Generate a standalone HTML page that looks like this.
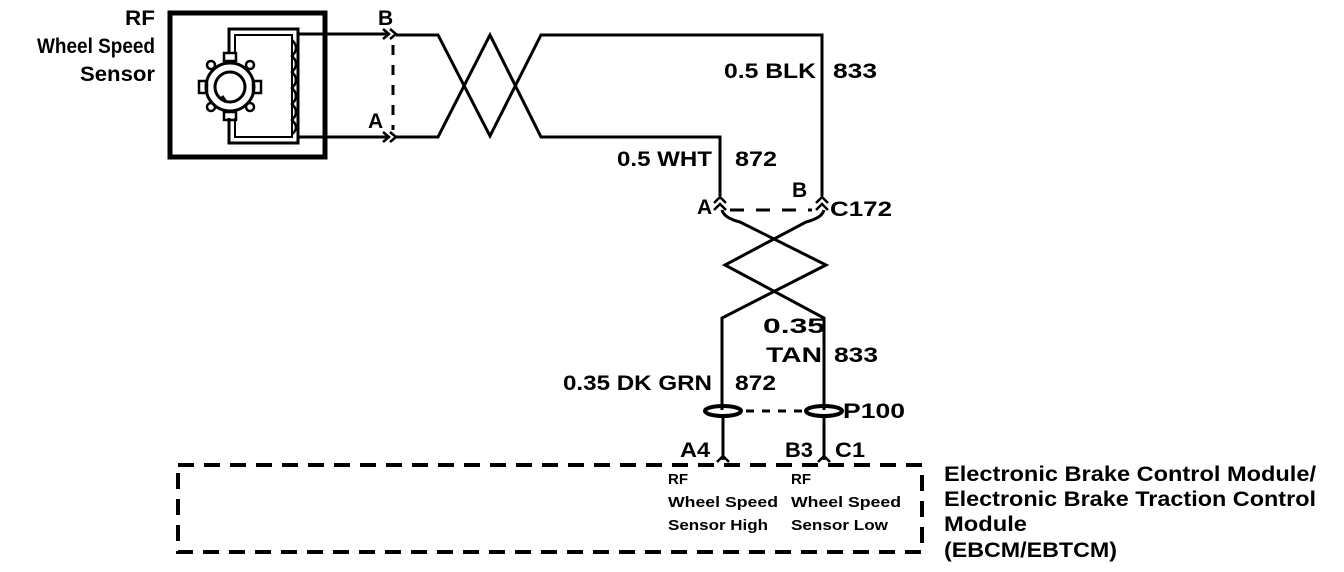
<!DOCTYPE html>
<html><head><style>
html,body{margin:0;padding:0;background:#fff;}
svg{display:block;}
text{font-family:"Liberation Sans",sans-serif;font-weight:bold;fill:#000;}
</style></head><body>
<svg width="1344" height="572" viewBox="0 0 1344 572" xmlns="http://www.w3.org/2000/svg">
<g fill="none" stroke="#000" stroke-width="3" stroke-linejoin="miter">
  <rect x="170" y="13" width="155" height="144" stroke-width="5"/>
  <path d="M229,52 V29 H298 V143 H229 V118" stroke-width="3"/>
  <path d="M235,52 V35 H292 V137 H235 V118" stroke-width="2"/>
  <path d="M292,40 q8,8 0,16 q8,8 0,16 q8,8 0,16 q8,8 0,16 q8,8 0,16 q8,8 0,14" stroke-width="2.5"/>
  <circle cx="230" cy="87" r="24" stroke-width="3"/>
  <circle cx="230" cy="87" r="15" stroke-width="3"/>
  <rect x="224" y="53" width="12" height="8" stroke-width="2.5"/>
  <rect x="224" y="112" width="12" height="8" stroke-width="2.5"/>
  <rect x="199" y="81" width="8" height="12" stroke-width="2.5"/>
  <rect x="253" y="81" width="8" height="12" stroke-width="2.5"/>
  <circle cx="211" cy="65" r="4" stroke-width="2.5"/>
  <circle cx="250" cy="65" r="4" stroke-width="2.5"/>
  <circle cx="211" cy="107" r="4" stroke-width="2.5"/>
  <circle cx="250" cy="107" r="4" stroke-width="2.5"/>
  <path d="M222,96 l4,6" stroke-width="3"/>
  <path d="M298,34 H388"/>
  <path d="M298,137 H388"/>
  <path d="M383,29 l6,5 l-6,5 M390,29 l6,5 l-6,5" stroke-width="2.5"/>
  <path d="M383,132 l6,5 l-6,5 M390,132 l6,5 l-6,5" stroke-width="2.5"/>
  <path d="M393,45 V130" stroke-dasharray="10,10" stroke-width="3"/>
  <path d="M396,35 H438 L490,136 L541,35 H822 V196"/>
  <path d="M396,137 H438 L490,35 L541,137 H720 V196"/>
  <path d="M714,203 l6,-6 l6,6 M714,210 l6,-6 l6,6" stroke-width="2.5"/>
  <path d="M816,203 l6,-6 l6,6 M816,210 l6,-6 l6,6" stroke-width="2.5"/>
  <path d="M730,210 H812" stroke-dasharray="14,12"/>
  <path d="M722,210 Q724,218 740,222 L826,265 L722,318 V410"/>
  <path d="M824,210 Q822,218 806,222 L725,265 L824,318 V410"/>
  <ellipse cx="723" cy="411" rx="18" ry="5" stroke-width="4"/>
  <ellipse cx="824" cy="411" rx="18" ry="5" stroke-width="4"/>
  <path d="M746,411 H802" stroke-dasharray="8,8"/>
  <path d="M723,416 V460 M824,416 V460"/>
  <path d="M717,462 l6,-6 l6,6 M818,462 l6,-6 l6,6" stroke-width="2.5"/>
  <path d="M178,465 H922 V552 H178 Z" stroke-dasharray="16,10" stroke-width="4"/>
</g>
<g font-size="21" lengthAdjust="spacingAndGlyphs">
  <text x="125" y="25" textLength="30" lengthAdjust="spacingAndGlyphs">RF</text>
  <text x="37" y="53" textLength="118" lengthAdjust="spacingAndGlyphs">Wheel Speed</text>
  <text x="80" y="81" textLength="75" lengthAdjust="spacingAndGlyphs">Sensor</text>
  <text x="378" y="25">B</text>
  <text x="368" y="128">A</text>
  <text x="724" y="78" textLength="92" lengthAdjust="spacingAndGlyphs">0.5 BLK</text>
  <text x="833" y="78" textLength="44" lengthAdjust="spacingAndGlyphs">833</text>
  <text x="617" y="166" textLength="95" lengthAdjust="spacingAndGlyphs">0.5 WHT</text>
  <text x="735" y="166" textLength="42" lengthAdjust="spacingAndGlyphs">872</text>
  <text x="697" y="214">A</text>
  <text x="792" y="197">B</text>
  <text x="830" y="216" textLength="62" lengthAdjust="spacingAndGlyphs">C172</text>
  <text x="763" y="333" textLength="62" lengthAdjust="spacingAndGlyphs">0.35</text>
  <text x="766" y="362" textLength="56" lengthAdjust="spacingAndGlyphs">TAN</text>
  <text x="834" y="362" textLength="44" lengthAdjust="spacingAndGlyphs">833</text>
  <text x="563" y="390" textLength="149" lengthAdjust="spacingAndGlyphs">0.35 DK GRN</text>
  <text x="735" y="390" textLength="41" lengthAdjust="spacingAndGlyphs">872</text>
  <text x="843" y="418" textLength="62" lengthAdjust="spacingAndGlyphs">P100</text>
  <text x="680" y="457" textLength="30" lengthAdjust="spacingAndGlyphs">A4</text>
  <text x="785" y="457" textLength="28" lengthAdjust="spacingAndGlyphs">B3</text>
  <text x="835" y="457" textLength="30" lengthAdjust="spacingAndGlyphs">C1</text>
  <text x="944" y="481" textLength="372" lengthAdjust="spacingAndGlyphs">Electronic Brake Control Module/</text>
  <text x="944" y="506" textLength="372" lengthAdjust="spacingAndGlyphs">Electronic Brake Traction Control</text>
  <text x="944" y="531" textLength="83" lengthAdjust="spacingAndGlyphs">Module</text>
  <text x="944" y="557" textLength="173" lengthAdjust="spacingAndGlyphs">(EBCM/EBTCM)</text>
</g>
<g font-size="15">
  <text x="668" y="484" textLength="20" lengthAdjust="spacingAndGlyphs">RF</text>
  <text x="668" y="507" textLength="110" lengthAdjust="spacingAndGlyphs">Wheel Speed</text>
  <text x="668" y="530" textLength="100" lengthAdjust="spacingAndGlyphs">Sensor High</text>
  <text x="791" y="484" textLength="20" lengthAdjust="spacingAndGlyphs">RF</text>
  <text x="791" y="507" textLength="110" lengthAdjust="spacingAndGlyphs">Wheel Speed</text>
  <text x="791" y="530" textLength="97" lengthAdjust="spacingAndGlyphs">Sensor Low</text>
</g>
</svg>
</body></html>
